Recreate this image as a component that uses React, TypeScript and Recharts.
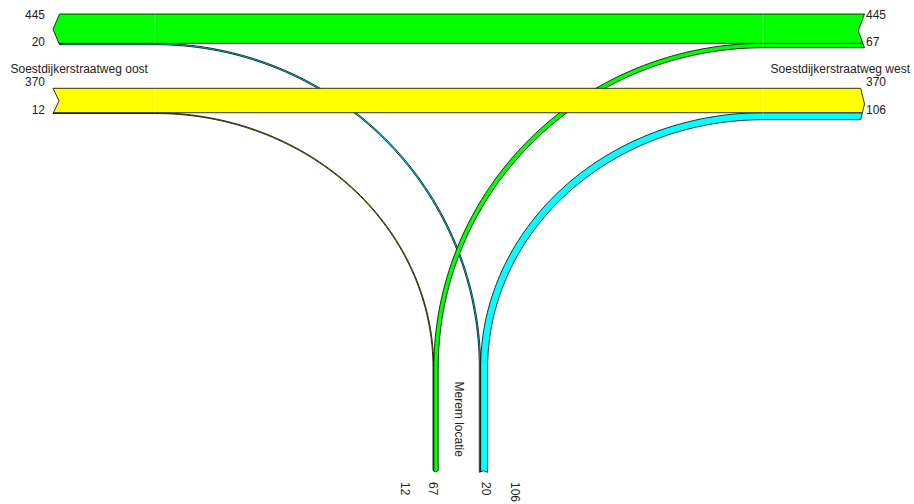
import React from "react";
import { ComposedChart, Scatter, XAxis, YAxis } from "recharts";

// ---------------- data ----------------
const armNames = ["Soestdijkerstraatweg oost", "Soestdijkerstraatweg west", "Merem locatie"];
const flowKeys = ["oost-west", "oost-merem", "west-oost", "west-merem", "merem-oost", "merem-west"];
const flowVolumes = [370, 12, 445, 67, 20, 106];
const flowColors = ["#ffff00", "#ffff00", "#00ff00", "#00ff00", "#00ffff", "#00ffff"];

const vol = (k: string) => flowVolumes[flowKeys.indexOf(k)];
const col = (k: string) => flowColors[flowKeys.indexOf(k)];

// ---------------- layout ----------------
const W = 914;
const H = 504;
const K = 0.066; // px per vehicle
const LEFT_JOIN = 155;
const RIGHT_JOIN = 763;
const TOP_Y = 14;
const LOW_Y = 88.3;
const LANE_Y = 368;
const IN_LANE_X = 433;
const OUT_LANE_X = 479.3;

type Pt = { x: number; y: number };
type End = { a: number; b: number; corner: number; out: number; depth: number; head: boolean; vertical: boolean };

const vOW = vol("oost-west");
const vOM = vol("oost-merem");
const vWO = vol("west-oost");
const vWM = vol("west-merem");
const vMO = vol("merem-oost");
const vMW = vol("merem-west");

const topMid = TOP_Y + vWO * K;
const topLeftBottom = topMid + vMO * K;
const topRightBottom = topMid + vWM * K;
const lowMid = LOW_Y + vOW * K;
const lowLeftBottom = lowMid + vOM * K;
const lowRightBottom = lowMid + vMW * K;
const inMid = IN_LANE_X + vOM * K;
const inRight = inMid + vWM * K;
const outMid = OUT_LANE_X + vMO * K;
const outRight = outMid + vMW * K;

const TL: End = { a: TOP_Y, b: topLeftBottom, corner: 59.5, out: -1, depth: 6.5, head: true, vertical: true };
const LL: End = { a: LOW_Y, b: lowLeftBottom, corner: 53, out: -1, depth: 6, head: false, vertical: true };
const TR: End = { a: TOP_Y, b: topRightBottom, corner: 864.5, out: 1, depth: 6.2, head: false, vertical: true };
const LR: End = { a: LOW_Y, b: lowRightBottom, corner: 860.7, out: 1, depth: 3.8, head: true, vertical: true };
const IN: End = { a: IN_LANE_X, b: inRight, corner: 470.5, out: 1, depth: 1.5, head: true, vertical: false };
const OUT: End = { a: OUT_LANE_X, b: outRight, corner: 472.3, out: 1, depth: 1.5, head: false, vertical: false };

const endPos = (e: End, t: number) => {
  const mid = (e.a + e.b) / 2;
  const half = (e.b - e.a) / 2;
  const f = 1 - Math.abs(t - mid) / half;
  return e.corner + (e.head ? 1 : -1) * e.out * e.depth * f;
};
const endPt = (e: End, t: number): Pt => (e.vertical ? { x: endPos(e, t), y: t } : { x: t, y: endPos(e, t) });
const endRun = (e: End, t1: number, t2: number): Pt[] => {
  const mid = (e.a + e.b) / 2;
  const ts = [t1];
  if ((mid - t1) * (mid - t2) < 0) ts.push(mid);
  ts.push(t2);
  return ts.map((t) => endPt(e, t));
};

const arc = (side: "L" | "R", y: number, b: number, forward: boolean): Pt[] => {
  const cx = side === "L" ? LEFT_JOIN : RIGHT_JOIN;
  const s = side === "L" ? 1 : -1;
  const rx = Math.abs(b - cx);
  const ry = LANE_Y - y;
  const n = 72;
  const pts: Pt[] = [];
  for (let i = 0; i <= n; i++) {
    const th = ((forward ? i : n - i) / n) * (Math.PI / 2);
    pts.push({ x: cx + s * rx * Math.sin(th), y: LANE_Y - ry * Math.cos(th) });
  }
  return pts;
};

const curved = (side: "L" | "R", yU: number, yL: number, bO: number, bI: number, armEnd: End, laneEnd: End): Pt[] => [
  endPt(armEnd, yU),
  ...arc(side, yU, bO, true),
  ...endRun(laneEnd, bO, bI),
  ...arc(side, yL, bI, false),
  ...endRun(armEnd, yL, yU),
];

const straight = (yT: number, yB: number, leftEnd: End, rightEnd: End): Pt[] => [
  ...endRun(rightEnd, yT, yB),
  ...endRun(leftEnd, yB, yT),
];

const polygons = [
  { key: "merem-oost", fill: col("merem-oost"), pts: curved("L", topMid, topLeftBottom, outMid, OUT_LANE_X, TL, OUT) },
  { key: "oost-merem", fill: col("oost-merem"), pts: curved("L", lowMid, lowLeftBottom, inMid, IN_LANE_X, LL, IN) },
  { key: "merem-west", fill: col("merem-west"), pts: curved("R", lowMid, lowRightBottom, outMid, outRight, LR, OUT) },
  { key: "west-merem", fill: col("west-merem"), pts: curved("R", topMid, topRightBottom, inMid, inRight, TR, IN) },
  { key: "oost-west", fill: col("oost-west"), pts: straight(LOW_Y, lowMid, LL, LR) },
  { key: "west-oost", fill: col("west-oost"), pts: straight(TOP_Y, topMid, TL, TR) },
];

const seams = [
  [{ x: LEFT_JOIN, y: TOP_Y + 0.6 }, { x: LEFT_JOIN, y: topLeftBottom - 0.6 }],
  [{ x: LEFT_JOIN, y: LOW_Y + 0.6 }, { x: LEFT_JOIN, y: lowLeftBottom - 0.6 }],
  [{ x: RIGHT_JOIN, y: TOP_Y + 0.6 }, { x: RIGHT_JOIN, y: topRightBottom - 0.6 }],
  [{ x: RIGHT_JOIN, y: LOW_Y + 0.6 }, { x: RIGHT_JOIN, y: lowRightBottom - 0.6 }],
];

type Label = { x: number; y: number; text: string; anchor: "start" | "end"; rot: boolean };
const labels: Label[] = [
  { x: 45, y: 18.5, text: String(vWO), anchor: "end", rot: false },
  { x: 45, y: 46, text: String(vMO), anchor: "end", rot: false },
  { x: 10.5, y: 72.5, text: armNames[0], anchor: "start", rot: false },
  { x: 45, y: 85.5, text: String(vOW), anchor: "end", rot: false },
  { x: 45, y: 114, text: String(vOM), anchor: "end", rot: false },
  { x: 866, y: 18.5, text: String(vWO), anchor: "start", rot: false },
  { x: 866, y: 46, text: String(vWM), anchor: "start", rot: false },
  { x: 910, y: 72.5, text: armNames[1], anchor: "end", rot: false },
  { x: 866, y: 85.5, text: String(vOW), anchor: "start", rot: false },
  { x: 866, y: 114, text: String(vMW), anchor: "start", rot: false },
  { x: 404.7, y: 482, text: String(vOM), anchor: "start", rot: true },
  { x: 432.5, y: 482, text: String(vWM), anchor: "start", rot: true },
  { x: 486, y: 482, text: String(vMO), anchor: "start", rot: true },
  { x: 514.5, y: 482, text: String(vMW), anchor: "start", rot: true },
  { x: 458.5, y: 381.5, text: armNames[2], anchor: "start", rot: true },
];

const FONT = "'Liberation Sans', Arial, Helvetica, sans-serif";

const toD = (pts: Pt[]) =>
  pts.map((p, i) => (i ? "L" : "M") + p.x.toFixed(2) + "," + p.y.toFixed(2)).join("") + "Z";

const hidden = () => <g />;

const polyLine = (fill: string) => (p: any) =>
  <path d={toD(p.points as Pt[])} fill={fill} stroke="#000" strokeWidth={0.8} strokeMiterlimit={4} />;

const labelShape = (p: any) => {
  const d: Label = p.payload;
  const cx = p.cx;
  const cy = p.cy;
  if (d.rot) {
    return (
      <text x={cx} y={cy} transform={`rotate(90 ${cx} ${cy})`} textAnchor="start" dominantBaseline="central"
        fontSize={12} fontFamily={FONT} fill="#222">
        {d.text}
      </text>
    );
  }
  return (
    <text x={cx} y={cy} textAnchor={d.anchor} fontSize={12} fontFamily={FONT} fill="#222">
      {d.text}
    </text>
  );
};

export default function App() {
  return (
    <div style={{ position: "fixed", left: 0, top: 0, width: W, height: H, background: "#fff" }}>
      <ComposedChart width={W} height={H} margin={{ top: 0, right: 0, bottom: 0, left: 0 }}>
        <XAxis type="number" dataKey="x" domain={[0, W]} hide allowDataOverflow />
        <YAxis type="number" dataKey="y" domain={[0, H]} reversed hide allowDataOverflow />
        {polygons.map((pg) => (
          <Scatter key={pg.key} name={pg.key} data={pg.pts} shape={hidden} line={polyLine(pg.fill)} isAnimationActive={false} />
        ))}
        {seams.map((s, i) => (
          <Scatter key={"seam" + i} data={s} shape={hidden}
            line={{ stroke: "#ffffff", strokeOpacity: 0.3, strokeWidth: 1 }} isAnimationActive={false} />
        ))}
        <Scatter key="labels" data={labels} shape={labelShape} isAnimationActive={false} />
      </ComposedChart>
    </div>
  );
}
